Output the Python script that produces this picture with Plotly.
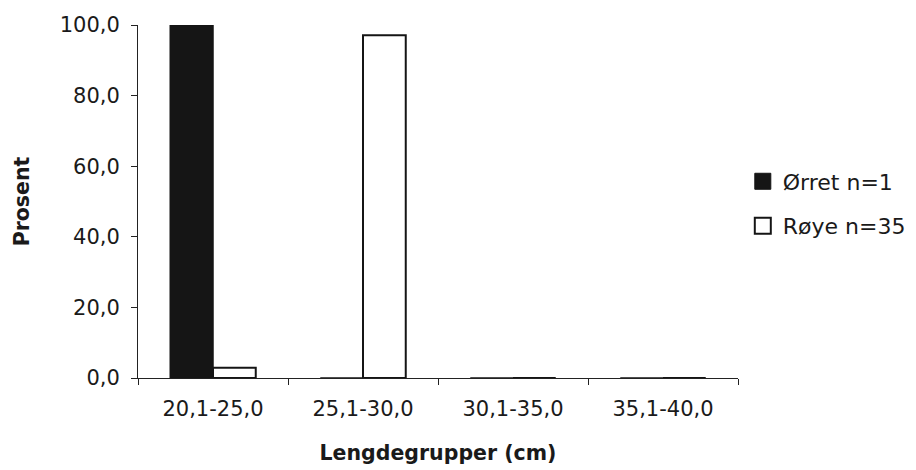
import plotly.graph_objects as go

categories = ["20,1-25,0", "25,1-30,0", "30,1-35,0", "35,1-40,0"]
orret = [100.0, 0.0, 0.0, 0.0]
roye = [2.9, 97.1, 0.0, 0.0]
series_names = ["Ørret n=1", "Røye n=35"]
ytick_vals = [0, 20, 40, 60, 80, 100]
ytick_text = ["0,0", "20,0", "40,0", "60,0", "80,0", "100,0"]

font = "DejaVu Sans, Arial, sans-serif"
fs = 21
ink = "#151515"

fig = go.Figure()
fig.add_trace(go.Bar(x=categories, y=orret, name=series_names[0], showlegend=False,
                     marker=dict(color=ink, line=dict(color=ink, width=1.5))))
fig.add_trace(go.Bar(x=categories, y=roye, name=series_names[1], showlegend=False,
                     marker=dict(color="white", line=dict(color=ink, width=2))))
# legend entries with larger square swatches
fig.add_trace(go.Scatter(x=[None], y=[None], mode="markers", name=series_names[0],
                         legendgroup="a",
                         marker=dict(symbol="square", size=16, color=ink,
                                     line=dict(color=ink, width=1))))
fig.add_trace(go.Scatter(x=[None], y=[None], mode="markers", name=series_names[1],
                         legendgroup="b",
                         marker=dict(symbol="square", size=16, color="white",
                                     line=dict(color=ink, width=2))))

fig.update_layout(
    width=916, height=470,
    margin=dict(l=130, r=186, t=17, b=100, autoexpand=False),
    paper_bgcolor="white", plot_bgcolor="white",
    barmode="group", bargap=0.43, bargroupgap=0,
    font=dict(family=font, size=fs, color="#1a1a1a"),
    showlegend=True,
    legend=dict(x=1.008, y=0.493, xanchor="left", yanchor="middle",
                font=dict(size=22), itemwidth=30, tracegroupgap=13,
                traceorder="grouped", bgcolor="rgba(0,0,0,0)"),
)
fig.update_xaxes(
    type="category", showline=True, linecolor="#222", linewidth=1,
    ticks="outside", tickson="boundaries", ticklen=6, tickcolor="#222",
    showgrid=False, tickfont=dict(size=fs), automargin=False,
    ticklabelstandoff=12,
    title=dict(text="<b>Lengdegrupper (cm)</b>", font=dict(size=20.5), standoff=25),
)
fig.update_yaxes(
    range=[0, 100], tickvals=ytick_vals, ticktext=ytick_text,
    showline=True, linecolor="#222", linewidth=1,
    ticks="outside", ticklen=6, tickcolor="#222", automargin=False,
    ticklabelstandoff=7,
    showgrid=False, zeroline=False, tickfont=dict(size=fs),
    title=dict(text="<b>Prosent</b>", font=dict(size=20.5), standoff=24),
)

fig.write_html("out.html")
